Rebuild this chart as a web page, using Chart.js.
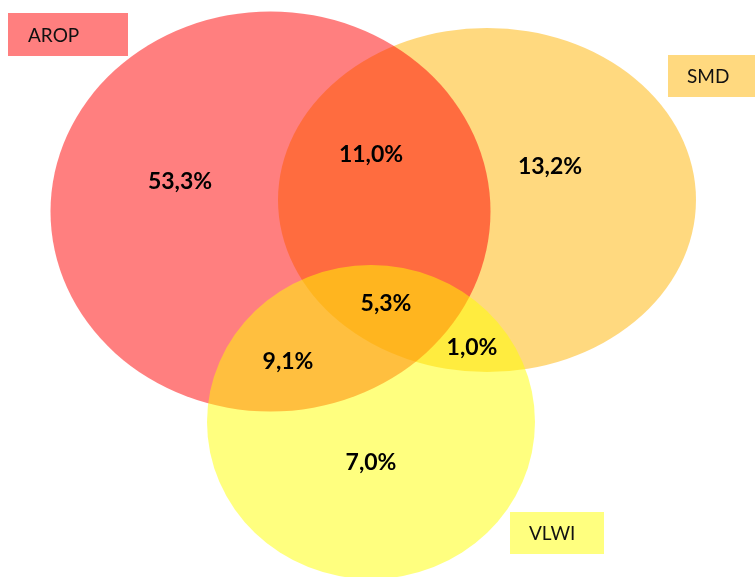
<!DOCTYPE html>
<html>
<head>
<meta charset="utf-8">
<script src="https://cdn.jsdelivr.net/npm/chart.js@4/dist/chart.umd.min.js"></script>
<style>
  html, body { margin: 0; padding: 0; background: #ffffff; }
  #wrap { width: 755px; height: 577px; position: relative; }
</style>
</head>
<body>
<div id="wrap"><canvas id="venn"></canvas></div>
<script>
// sets (drawn in this order, so AROP lies over SMD and VLWI over both)
const setNames   = ['SMD', 'AROP', 'VLWI'];
const setCenterX = [487, 270.5, 371];
const setCenterY = [200, 211.5, 422];
const setRadiusX = [209, 220, 164];
const setRadiusY = [172, 200, 157];

// regions and their shares (%)
const regionNames  = ['AROP', 'AROP+SMD', 'SMD', 'alle drie', 'AROP+VLWI', 'SMD+VLWI', 'VLWI'];
const regionValues = [53.3, 11.0, 13.2, 5.3, 9.1, 1.0, 7.0];
const regionX      = [180, 371, 550, 386, 288, 472, 371];
const regionY      = [181, 154, 166, 303, 361, 347, 462];

const setColors = {
  SMD:  'rgba(255, 179, 0, 0.5)',
  AROP: 'rgba(255, 0, 0, 0.5)',
  VLWI: 'rgba(255, 255, 0, 0.5)'
};

// name boxes (top-left corner, size, text start)
const nameBoxes = {
  AROP: { x: 8,   y: 13,  w: 120, h: 43, tx: 28 },
  SMD:  { x: 668, y: 55,  w: 87,  h: 42, tx: 687 },
  VLWI: { x: 510, y: 512, w: 94,  h: 42, tx: 529 }
};

function pct(v) {
  return v.toFixed(1).replace('.', ',') + '%';
}

const vennPlugin = {
  id: 'vennSets',
  beforeDatasetsDraw(chart) {
    const ctx = chart.ctx;
    const xs = chart.scales.x;
    const ys = chart.scales.y;

    ctx.save();
    setNames.forEach(function(name, i) {
      const cx = xs.getPixelForValue(setCenterX[i]);
      const cy = ys.getPixelForValue(setCenterY[i]);
      const rx = Math.abs(xs.getPixelForValue(setCenterX[i] + setRadiusX[i]) - cx);
      const ry = Math.abs(ys.getPixelForValue(setCenterY[i] + setRadiusY[i]) - cy);
      ctx.beginPath();
      ctx.ellipse(cx, cy, rx, ry, 0, 0, Math.PI * 2);
      ctx.fillStyle = setColors[name];
      ctx.fill();
    });

    // name boxes
    ctx.font = '19px Lato';
    ctx.textBaseline = 'middle';
    ctx.textAlign = 'left';
    setNames.forEach(function(name) {
      const b = nameBoxes[name];
      ctx.fillStyle = setColors[name];
      ctx.fillRect(b.x, b.y, b.w, b.h);
      ctx.fillStyle = '#111111';
      ctx.fillText(name, b.tx, b.y + b.h / 2 + 1);
    });
    ctx.restore();
  },
  afterDatasetsDraw(chart) {
    const ctx = chart.ctx;
    const meta = chart.getDatasetMeta(0);
    ctx.save();
    ctx.font = 'bold 23px Lato';
    ctx.fillStyle = '#000000';
    ctx.textAlign = 'center';
    ctx.textBaseline = 'middle';
    meta.data.forEach(function(pt, i) {
      ctx.fillText(pct(regionValues[i]), pt.x, pt.y + 1);
    });
    ctx.restore();
  }
};

new Chart(document.getElementById('venn'), {
  type: 'scatter',
  data: {
    datasets: [{
      label: 'aandeel',
      data: regionNames.map(function(n, i) {
        return { x: regionX[i], y: regionY[i] };
      }),
      pointRadius: 0,
      pointHoverRadius: 0
    }]
  },
  options: {
    responsive: true,
    maintainAspectRatio: false,
    animation: false,
    layout: { padding: 0 },
    scales: {
      x: { type: 'linear', min: 0, max: 755, display: false },
      y: { type: 'linear', min: 0, max: 577, reverse: true, display: false }
    },
    plugins: {
      legend: { display: false },
      tooltip: { enabled: false }
    }
  },
  plugins: [vennPlugin]
});
</script>
</body>
</html>
